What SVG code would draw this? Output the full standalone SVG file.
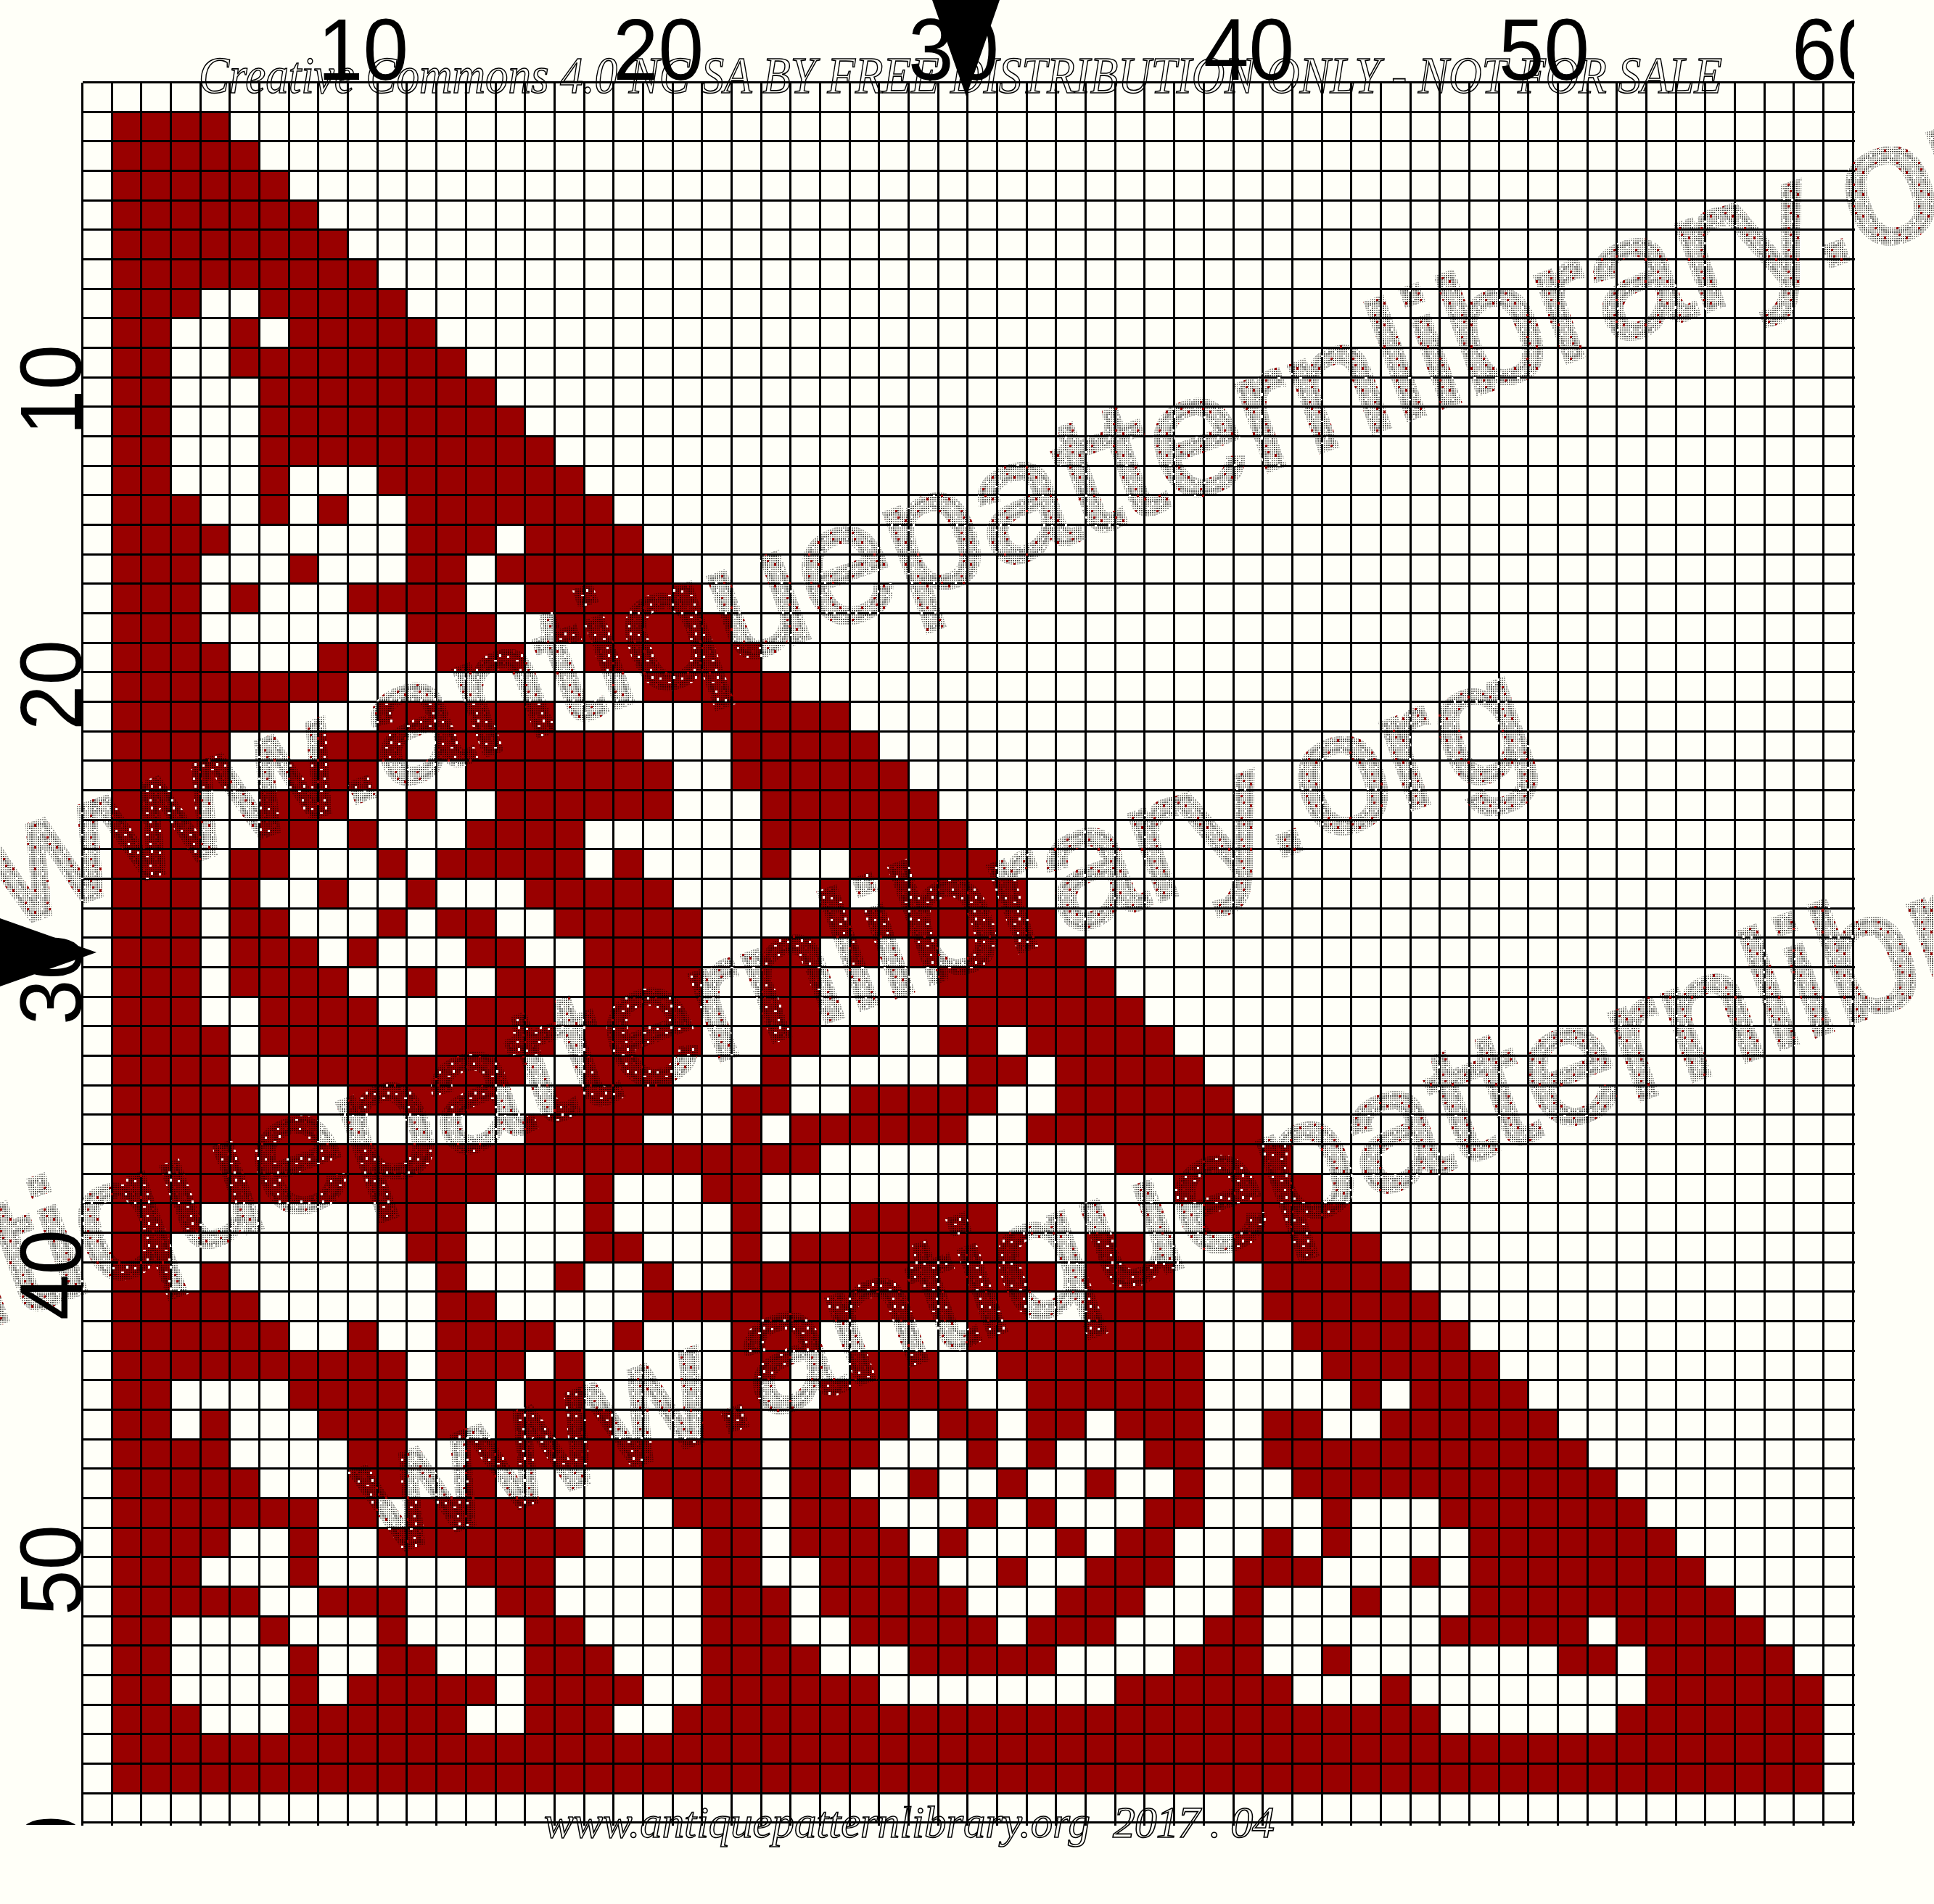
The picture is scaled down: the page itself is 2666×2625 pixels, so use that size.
<svg xmlns="http://www.w3.org/2000/svg" width="2666" height="2625" viewBox="0 0 2666 2625">
<style>
.axis{font-family:"Liberation Sans",Arial,sans-serif;font-size:120px;fill:#000}
.credit{font-family:"Liberation Serif","Times New Roman",serif;font-style:italic;fill:none;stroke:#000;stroke-width:1.6px}
.wm{font-family:"Liberation Sans",Arial,sans-serif;font-size:232px;fill:url(#stip);stroke:url(#stip);stroke-width:9px}
</style>
<defs>
<pattern id="fine" width="3" height="3" patternUnits="userSpaceOnUse"><rect width="2" height="2" fill="#000" fill-opacity=".42"/></pattern>
<pattern id="stip" width="30" height="30" patternUnits="userSpaceOnUse" patternTransform="rotate(20)">
<rect width="30" height="30" fill="url(#fine)"/>
<rect x="4" y="7" width="3" height="4" fill="#990000"/>
<rect x="21" y="24" width="3" height="3" fill="#990000"/>
<rect x="24" y="3" width="3" height="3" fill="#990000"/>
<rect x="13" y="3" width="3" height="3" fill="#fffff8"/>
<rect x="26" y="15" width="3" height="3" fill="#fffff8"/>
<rect x="8" y="21" width="4" height="2" fill="#fffff8"/>
<rect x="15" y="13" width="3" height="4" fill="#fffff8"/>
</pattern>
<clipPath id="cr"><rect x="0" y="0" width="2556" height="2625"/></clipPath>
<clipPath id="cb"><rect x="0" y="0" width="2666" height="2516"/></clipPath>
</defs>
<rect id="background" width="2666" height="2625" fill="#fffff8"/>
<path id="stitches" transform="translate(114.5 114.5) scale(40.68 40.67)" fill="none" stroke="#990000" stroke-width="1" shape-rendering="crispEdges" d="M1 1.5H5M1 2.5H6M1 3.5H7M1 4.5H8M1 5.5H9M1 6.5H10M1 7.5H4M6 7.5H11M1 8.5H3M5 8.5H6M7 8.5H12M1 9.5H3M5 9.5H13M1 10.5H3M6 10.5H14M1 11.5H3M6 11.5H15M1 12.5H3M6 12.5H16M1 13.5H3M6 13.5H7M10 13.5H17M1 14.5H4M6 14.5H7M8 14.5H9M11 14.5H18M1 15.5H5M11 15.5H14M15 15.5H19M1 16.5H4M7 16.5H8M11 16.5H13M14 16.5H20M1 17.5H4M5 17.5H6M9 17.5H13M15 17.5H21M1 18.5H4M11 18.5H14M16 18.5H22M1 19.5H5M8 19.5H10M12 19.5H15M17 19.5H23M1 20.5H9M19 20.5H24M1 21.5H7M10 21.5H16M21 21.5H26M1 22.5H5M8 22.5H11M12 22.5H19M22 22.5H27M1 23.5H5M7 23.5H10M13 23.5H20M22 23.5H28M1 24.5H4M6 24.5H9M11 24.5H12M14 24.5H20M23 24.5H29M1 25.5H4M6 25.5H8M9 25.5H10M13 25.5H17M23 25.5H30M1 26.5H4M5 26.5H7M10 26.5H11M12 26.5H17M18 26.5H19M23 26.5H24M26 26.5H31M1 27.5H4M5 27.5H6M8 27.5H9M11 27.5H12M15 27.5H20M25 27.5H26M27 27.5H32M1 28.5H4M5 28.5H7M10 28.5H11M12 28.5H14M16 28.5H21M24 28.5H33M1 29.5H4M5 29.5H8M9 29.5H10M13 29.5H15M17 29.5H21M23 29.5H25M26 29.5H27M28 29.5H29M30 29.5H34M1 30.5H4M5 30.5H9M11 30.5H12M14 30.5H16M17 30.5H21M23 30.5H25M29 30.5H35M1 31.5H4M6 31.5H10M13 31.5H16M17 31.5H21M23 31.5H25M30 31.5H36M1 32.5H5M6 32.5H11M12 32.5H16M17 32.5H21M23 32.5H25M26 32.5H27M29 32.5H31M32 32.5H37M1 33.5H5M7 33.5H15M17 33.5H20M23 33.5H24M30 33.5H32M33 33.5H38M1 34.5H6M9 34.5H14M16 34.5H20M22 34.5H24M26 34.5H31M33 34.5H39M1 35.5H8M15 35.5H19M22 35.5H23M24 35.5H30M32 35.5H40M1 36.5H25M35 36.5H41M1 37.5H14M17 37.5H18M21 37.5H23M37 37.5H42M1 38.5H4M10 38.5H13M17 38.5H18M22 38.5H23M26 38.5H31M38 38.5H43M1 39.5H3M11 39.5H13M17 39.5H19M22 39.5H23M24 39.5H32M34 39.5H36M39 39.5H44M1 40.5H3M4 40.5H5M12 40.5H13M16 40.5H17M19 40.5H20M22 40.5H33M34 40.5H37M40 40.5H45M1 41.5H6M12 41.5H14M19 41.5H32M34 41.5H37M40 41.5H46M1 42.5H7M9 42.5H10M12 42.5H16M18 42.5H19M22 42.5H25M30 42.5H38M41 42.5H47M1 43.5H11M12 43.5H15M16 43.5H17M22 43.5H24M26 43.5H29M31 43.5H38M42 43.5H48M1 44.5H3M7 44.5H11M12 44.5H14M15 44.5H17M22 44.5H23M25 44.5H30M32 44.5H38M43 44.5H44M45 44.5H49M1 45.5H3M4 45.5H5M8 45.5H11M12 45.5H13M14 45.5H18M21 45.5H23M24 45.5H28M29 45.5H31M32 45.5H34M35 45.5H38M40 45.5H42M44 45.5H50M1 46.5H5M9 46.5H11M13 46.5H23M24 46.5H27M30 46.5H31M32 46.5H33M36 46.5H38M40 46.5H51M1 47.5H6M9 47.5H11M13 47.5H14M19 47.5H23M24 47.5H26M28 47.5H29M31 47.5H32M34 47.5H35M37 47.5H38M41 47.5H52M1 48.5H8M9 48.5H10M11 48.5H16M20 48.5H23M24 48.5H27M30 48.5H31M32 48.5H33M36 48.5H38M42 48.5H43M46 48.5H53M1 49.5H5M7 49.5H8M10 49.5H17M21 49.5H23M24 49.5H28M29 49.5H30M33 49.5H34M35 49.5H37M40 49.5H41M42 49.5H43M47 49.5H54M1 50.5H4M7 50.5H8M13 50.5H16M21 50.5H23M25 50.5H29M31 50.5H32M34 50.5H37M39 50.5H42M45 50.5H46M47 50.5H55M1 51.5H6M8 51.5H11M14 51.5H16M21 51.5H24M25 51.5H30M33 51.5H36M39 51.5H40M43 51.5H44M47 51.5H56M1 52.5H3M6 52.5H7M10 52.5H11M15 52.5H17M21 52.5H24M26 52.5H31M32 52.5H35M38 52.5H40M46 52.5H51M52 52.5H57M1 53.5H3M7 53.5H8M10 53.5H12M15 53.5H18M21 53.5H25M28 53.5H33M37 53.5H40M42 53.5H43M50 53.5H52M53 53.5H58M1 54.5H3M7 54.5H8M9 54.5H14M15 54.5H19M21 54.5H27M35 54.5H41M44 54.5H45M53 54.5H59M1 55.5H4M7 55.5H13M15 55.5H18M20 55.5H46M52 55.5H59M1 56.5H59M1 57.5H59"/>
<path id="grid" fill="none" stroke="#000" stroke-width="3" shape-rendering="crispEdges" transform="translate(.5 .5)" d="M113 113V2516M154 113V2516M194 113V2516M235 113V2516M276 113V2516M316 113V2516M357 113V2516M398 113V2516M438 113V2516M479 113V2516M520 113V2516M560 113V2516M601 113V2516M642 113V2516M683 113V2516M723 113V2516M764 113V2516M805 113V2516M845 113V2516M886 113V2516M927 113V2516M967 113V2516M1008 113V2516M1049 113V2516M1089 113V2516M1130 113V2516M1171 113V2516M1211 113V2516M1252 113V2516M1293 113V2516M1333 113V2516M1374 113V2516M1415 113V2516M1455 113V2516M1496 113V2516M1537 113V2516M1577 113V2516M1618 113V2516M1659 113V2516M1700 113V2516M1740 113V2516M1781 113V2516M1822 113V2516M1862 113V2516M1903 113V2516M1944 113V2516M1984 113V2516M2025 113V2516M2066 113V2516M2106 113V2516M2147 113V2516M2188 113V2516M2228 113V2516M2269 113V2516M2310 113V2516M2350 113V2516M2391 113V2516M2432 113V2516M2472 113V2516M2513 113V2516M2554 113V2516M113 113H2556M113 154H2556M113 194H2556M113 235H2556M113 276H2556M113 316H2556M113 357H2556M113 398H2556M113 438H2556M113 479H2556M113 520H2556M113 560H2556M113 601H2556M113 642H2556M113 682H2556M113 723H2556M113 764H2556M113 804H2556M113 845H2556M113 886H2556M113 926H2556M113 967H2556M113 1008H2556M113 1048H2556M113 1089H2556M113 1130H2556M113 1170H2556M113 1211H2556M113 1252H2556M113 1292H2556M113 1333H2556M113 1374H2556M113 1414H2556M113 1455H2556M113 1496H2556M113 1536H2556M113 1577H2556M113 1618H2556M113 1658H2556M113 1699H2556M113 1740H2556M113 1780H2556M113 1821H2556M113 1862H2556M113 1902H2556M113 1943H2556M113 1984H2556M113 2024H2556M113 2065H2556M113 2106H2556M113 2146H2556M113 2187H2556M113 2228H2556M113 2268H2556M113 2309H2556M113 2350H2556M113 2390H2556M113 2431H2556M113 2472H2556M113 2512H2556"/>
<g id="watermark">
<text class="wm" transform="translate(13 1279) rotate(-20)">www.antiquepatternlibrary.org</text>
<text class="wm" transform="translate(-741 2092) rotate(-20)">www.antiquepatternlibrary.org</text>
<text class="wm" transform="translate(527 2146) rotate(-20)">www.antiquepatternlibrary.org</text>
</g>
<g id="top-labels" clip-path="url(#cr)">
<text class="axis" x="438" y="110" textLength="125" lengthAdjust="spacingAndGlyphs">10</text>
<text class="axis" x="845" y="110" textLength="125" lengthAdjust="spacingAndGlyphs">20</text>
<text class="axis" x="1252" y="110" textLength="125" lengthAdjust="spacingAndGlyphs">30</text>
<text class="axis" x="1659" y="110" textLength="125" lengthAdjust="spacingAndGlyphs">40</text>
<text class="axis" x="2066" y="110" textLength="125" lengthAdjust="spacingAndGlyphs">50</text>
<text class="axis" x="2470" y="110" textLength="125" lengthAdjust="spacingAndGlyphs">60</text>
</g>
<g id="side-labels" clip-path="url(#cb)">
<text class="axis" transform="translate(112 600) rotate(-90)" textLength="125" lengthAdjust="spacingAndGlyphs">10</text>
<text class="axis" transform="translate(112 1007) rotate(-90)" textLength="125" lengthAdjust="spacingAndGlyphs">20</text>
<text class="axis" transform="translate(112 1413) rotate(-90)" textLength="125" lengthAdjust="spacingAndGlyphs">30</text>
<text class="axis" transform="translate(112 1820) rotate(-90)" textLength="125" lengthAdjust="spacingAndGlyphs">40</text>
<text class="axis" transform="translate(112 2227) rotate(-90)" textLength="125" lengthAdjust="spacingAndGlyphs">50</text>
<text class="axis" transform="translate(112 2628) rotate(-90)" textLength="125" lengthAdjust="spacingAndGlyphs">60</text>
</g>
<polygon id="centre-mark-top" points="1285,0 1378,0 1332,133" fill="#000"/>
<polygon id="centre-mark-left" points="0,1266 0,1360 133,1313" fill="#000"/>
<text id="licence" class="credit" x="274" y="128" font-size="72" textLength="2100" lengthAdjust="spacingAndGlyphs">Creative Commons 4.0 NC SA BY FREE DISTRIBUTION ONLY - NOT FOR SALE</text>
<text id="site" class="credit" x="750" y="2533" font-size="62" textLength="753" lengthAdjust="spacingAndGlyphs">www.antiquepatternlibrary.org</text>
<text id="date" class="credit" x="1534" y="2533" font-size="62" textLength="223">2017 . 04</text>
</svg>
